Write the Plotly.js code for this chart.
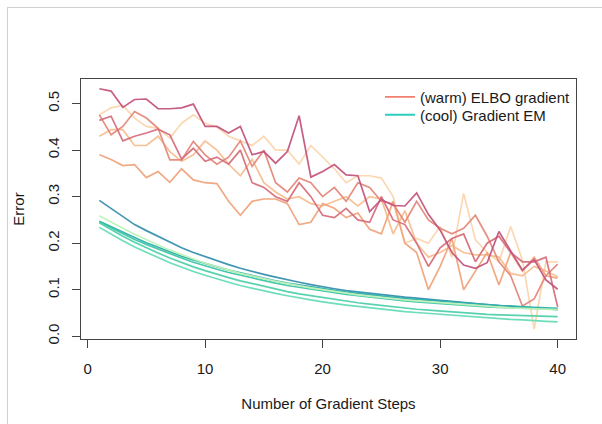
<!DOCTYPE html>
<html>
<head>
<meta charset="utf-8">
<script src="https://cdn.plot.ly/plotly-3.0.1.min.js"></script>
<style>
html,body{margin:0;padding:0;background:#fff;}
#wrap{position:relative;width:602px;height:424px;}
#chart{position:absolute;left:0;top:0;width:602px;height:424px;}
#frame{position:absolute;left:7px;top:7px;right:0;bottom:0;border-left:1px solid #d0d0d0;border-top:1px solid #d0d0d0;pointer-events:none;}
</style>
</head>
<body>
<div id="wrap"><div id="chart"></div><div id="frame"></div></div>
<script>
const steps = Array.from({length: 40}, (_, i) => i + 1);

// warm: ELBO gradient runs
const warmA = [.532,.527,.492,.509,.510,.489,.489,.491,.499,.451,.451,.437,.451,.390,.397,.372,.397,.474,.342,.354,.369,.347,.345,.268,.294,.281,.280,.308,.262,.228,.180,.153,.146,.158,.225,.182,.142,.165,.121,.101];
const warmB = [.464,.473,.420,.430,.437,.445,.433,.381,.404,.376,.385,.370,.400,.330,.320,.300,.290,.330,.300,.260,.255,.275,.250,.245,.300,.250,.240,.200,.150,.190,.210,.220,.160,.200,.215,.180,.160,.160,.170,.063];
const warmC = [.476,.433,.451,.483,.469,.447,.379,.379,.419,.390,.370,.385,.420,.365,.400,.330,.310,.340,.330,.300,.320,.290,.330,.320,.290,.285,.245,.290,.250,.232,.220,.232,.260,.215,.160,.130,.065,.080,.130,.155];
const warmD = [.390,.380,.367,.369,.341,.354,.331,.360,.336,.330,.328,.290,.260,.290,.295,.295,.285,.240,.245,.285,.275,.255,.265,.230,.220,.290,.200,.180,.100,.150,.210,.100,.140,.180,.110,.180,.140,.170,.130,.125];
const warmE = [.430,.444,.444,.410,.410,.430,.397,.376,.390,.420,.400,.370,.345,.380,.330,.310,.295,.300,.285,.280,.290,.300,.280,.300,.295,.220,.270,.200,.170,.180,.195,.180,.175,.175,.170,.135,.130,.150,.140,.128];
const warmF = [.476,.491,.496,.469,.451,.447,.426,.458,.476,.458,.450,.430,.420,.410,.430,.400,.400,.370,.410,.385,.360,.330,.345,.345,.340,.300,.200,.210,.200,.236,.170,.307,.207,.180,.160,.236,.164,.015,.160,.160];

// cool: Gradient EM runs
const coolA = [.292,.275,.257,.240,.227,.215,.202,.190,.180,.171,.162,.154,.146,.139,.133,.127,.121,.116,.111,.106,.102,.098,.095,.092,.089,.086,.084,.082,.079,.077,.075,.072,.070,.068,.066,.064,.062,.060,.059,.057];
const coolB = [.247,.235,.223,.212,.201,.191,.181,.172,.164,.156,.149,.142,.136,.130,.124,.119,.114,.110,.106,.102,.098,.095,.092,.089,.086,.083,.081,.079,.077,.075,.073,.071,.069,.068,.066,.065,.063,.062,.061,.060];
const coolC = [.246,.233,.220,.208,.197,.187,.177,.168,.159,.151,.144,.137,.131,.125,.119,.114,.109,.105,.101,.097,.093,.090,.087,.084,.081,.078,.076,.074,.072,.070,.068,.066,.065,.063,.062,.061,.060,.059,.058,.058];
const coolD = [.244,.229,.215,.202,.190,.179,.168,.158,.149,.141,.133,.126,.119,.113,.107,.101,.096,.091,.087,.083,.079,.075,.072,.069,.066,.063,.061,.058,.056,.054,.052,.050,.049,.047,.046,.045,.044,.043,.042,.042];
const coolE = [.259,.245,.232,.219,.207,.196,.185,.175,.166,.157,.149,.142,.135,.129,.123,.118,.113,.108,.104,.100,.096,.092,.089,.086,.083,.080,.078,.076,.074,.072,.070,.068,.066,.064,.063,.061,.060,.059,.058,.057];
const coolF = [.234,.219,.205,.192,.180,.169,.158,.148,.139,.131,.123,.116,.109,.103,.097,.092,.087,.082,.078,.074,.070,.067,.064,.061,.058,.055,.053,.051,.049,.047,.045,.043,.041,.039,.038,.036,.035,.033,.032,.031];

const warmSeries = [warmF, warmE, warmD, warmC, warmB, warmA];
const warmColors = ['#FBD6AE','#F7BE90','#F0A47C','#E4887A','#D66F7C','#C4557F'];
const coolSeries = [coolA, coolB, coolC, coolD, coolE, coolF];
const coolColors = ['#3791AF','#2FAFAA','#3DC5A6','#4FD0AA','#BFF1B8','#66DBB8'];

const legendNames = ['(warm) ELBO gradient', '(cool) Gradient EM'];
const legendColors = ['#F2806F', '#2FCDBE'];

const traces = [];
warmSeries.forEach((s, k) => traces.push({x: steps, y: s, type: 'scatter', mode: 'lines',
  line: {color: warmColors[k], width: 1.7}, opacity: 0.95, showlegend: false, hoverinfo: 'skip'}));
coolSeries.forEach((s, k) => traces.push({x: steps, y: s, type: 'scatter', mode: 'lines',
  line: {color: coolColors[k], width: 1.7}, opacity: 0.95, showlegend: false, hoverinfo: 'skip'}));
legendNames.forEach((n, k) => traces.push({x: [null], y: [null], type: 'scatter', mode: 'lines',
  name: n, line: {color: legendColors[k], width: 1.8}, showlegend: true, legend: k === 0 ? 'legend' : 'legend2'}));

const font = {family: 'Liberation Sans, Arial, sans-serif', size: 15, color: '#1a1a1a'};
const legendBase = {x: 0.604, xanchor: 'left', yanchor: 'top', bgcolor: 'rgba(0,0,0,0)',
  font: {family: font.family, size: 15, color: '#1a1a1a'}, itemwidth: 30};
const layout = {
  width: 602, height: 424,
  margin: {l: 81, r: 26, t: 79, b: 85},
  paper_bgcolor: 'rgba(0,0,0,0)', plot_bgcolor: '#fff',
  font: font,
  showlegend: true,
  legend: Object.assign({}, legendBase, {y: 0.994}),
  legend2: Object.assign({}, legendBase, {y: 0.925}),
  xaxis: {range: [-0.56, 41.56], tickvals: [0,10,20,30,40], ticktext: ['0','10','20','30','40'],
    showgrid: false, zeroline: false, showline: true, mirror: true, linecolor: '#444', linewidth: 1,
    ticks: 'outside', ticklen: 8, tickcolor: '#444', ticklabelstandoff: 8,
    title: {text: 'Number of Gradient Steps', font: font, standoff: 22}},
  yaxis: {range: [-0.006, 0.553], tickvals: [0,0.1,0.2,0.3,0.4,0.5], ticktext: ['0.0','0.1','0.2','0.3','0.4','0.5'],
    tickangle: -90, showgrid: false, zeroline: false, showline: true, mirror: true, linecolor: '#444', linewidth: 1,
    ticks: 'outside', ticklen: 8, tickcolor: '#444', ticklabelstandoff: 7,
    title: {text: 'Error', font: font, standoff: 16}}
};
Plotly.newPlot('chart', traces, layout, {staticPlot: true, displayModeBar: false});
</script>
</body>
</html>
